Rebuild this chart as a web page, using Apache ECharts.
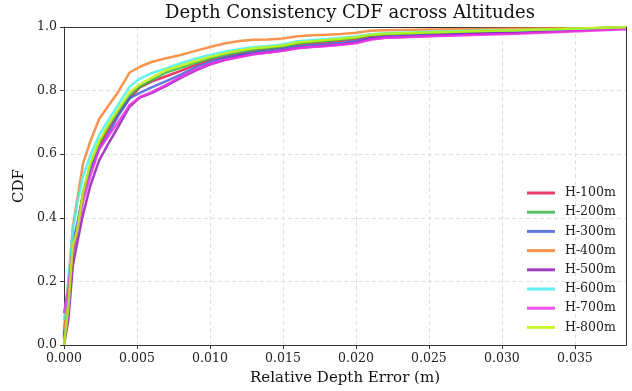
<!DOCTYPE html>
<html>
<head>
<meta charset="utf-8">
<script src="https://cdn.jsdelivr.net/npm/echarts@6/dist/echarts.min.js"></script>
<style>
  html, body { margin: 0; padding: 0; background: #fff; }
  #chart { width: 632px; height: 391px; }
</style>
</head>
<body>
<div id="chart"></div>
<script>
// relative depth error (m), shared sample points for all curves
const errors = [0, 0.0003, 0.0006, 0.0009, 0.0013, 0.0018, 0.0024, 0.003, 0.0037, 0.0045,
  0.0052, 0.006, 0.007, 0.008, 0.009, 0.010, 0.011, 0.012, 0.013, 0.014, 0.015, 0.016,
  0.017, 0.018, 0.019, 0.020, 0.021, 0.022, 0.025, 0.028, 0.031, 0.034, 0.0365, 0.0385];

const altitudes = ["H-100m", "H-200m", "H-300m", "H-400m", "H-500m", "H-600m", "H-700m", "H-800m"];

const cdf100 = [0.02, 0.14, 0.29, 0.36, 0.47, 0.555, 0.625, 0.675, 0.725, 0.776, 0.81, 0.828, 0.845,
  0.862, 0.88, 0.896, 0.906, 0.915, 0.925, 0.931, 0.936, 0.945, 0.949, 0.952, 0.957, 0.962, 0.97,
  0.974, 0.979, 0.983, 0.987, 0.991, 0.995, 0.998];
const cdf200 = [0.03, 0.15, 0.3, 0.37, 0.48, 0.565, 0.635, 0.685, 0.735, 0.785, 0.812, 0.832, 0.857,
  0.872, 0.887, 0.9, 0.912, 0.921, 0.928, 0.933, 0.938, 0.947, 0.952, 0.956, 0.96, 0.966, 0.974,
  0.977, 0.982, 0.986, 0.989, 0.993, 0.996, 0.999];
const cdf300 = [0.03, 0.16, 0.32, 0.38, 0.47, 0.55, 0.615, 0.66, 0.72, 0.776, 0.793, 0.81, 0.83,
  0.85, 0.873, 0.89, 0.903, 0.912, 0.92, 0.925, 0.931, 0.939, 0.943, 0.946, 0.95, 0.956, 0.965,
  0.969, 0.975, 0.979, 0.983, 0.988, 0.993, 0.997];
const cdf400 = [0.05, 0.2, 0.37, 0.456, 0.57, 0.64, 0.71, 0.75, 0.795, 0.857, 0.875, 0.89, 0.902,
  0.912, 0.925, 0.937, 0.948, 0.956, 0.96, 0.961, 0.964, 0.971, 0.974, 0.976, 0.978, 0.982, 0.988,
  0.99, 0.992, 0.994, 0.995, 0.996, 0.997, 0.999];
const cdf500 = [0.0, 0.08, 0.248, 0.32, 0.41, 0.5, 0.58, 0.63, 0.685, 0.75, 0.778, 0.792, 0.815,
  0.84, 0.863, 0.882, 0.896, 0.907, 0.915, 0.92, 0.926, 0.934, 0.938, 0.941, 0.945, 0.951, 0.962,
  0.966, 0.972, 0.977, 0.981, 0.987, 0.992, 0.996];
const cdf600 = [0.08, 0.2, 0.36, 0.445, 0.53, 0.595, 0.66, 0.705, 0.755, 0.8125, 0.838, 0.855, 0.87,
  0.886, 0.9, 0.912, 0.922, 0.93, 0.937, 0.94, 0.945, 0.955, 0.959, 0.962, 0.966, 0.97, 0.977,
  0.98, 0.985, 0.988, 0.99, 0.993, 0.996, 0.998];
const cdf700 = [0.1, 0.18, 0.3, 0.36, 0.45, 0.53, 0.615, 0.655, 0.7, 0.755, 0.78, 0.795, 0.818,
  0.843, 0.866, 0.884, 0.896, 0.905, 0.914, 0.92, 0.925, 0.933, 0.937, 0.94, 0.944, 0.949, 0.96,
  0.966, 0.971, 0.975, 0.979, 0.984, 0.989, 0.993];
const cdf800 = [0.0, 0.12, 0.31, 0.36, 0.477, 0.57, 0.64, 0.69, 0.74, 0.795, 0.82, 0.84, 0.865,
  0.878, 0.893, 0.906, 0.917, 0.926, 0.933, 0.937, 0.942, 0.951, 0.955, 0.959, 0.963, 0.968, 0.976,
  0.979, 0.983, 0.987, 0.99, 0.994, 0.997, 0.999];

const curves = [cdf100, cdf200, cdf300, cdf400, cdf500, cdf600, cdf700, cdf800];
const colors = ["#E6194B", "#3CB44B", "#4363D8", "#F58231", "#911EB4", "#46F0F0", "#F032E6", "#BCF60C"];

const font = "DejaVu Serif";
const chart = echarts.init(document.getElementById("chart"), null, { renderer: "canvas" });

// plain axis used only to draw the top / right frame lines
const frame = { show: true, onZero: false, lineStyle: { color: "#333", width: 1 } };

chart.setOption({
  animation: false,
  color: colors,
  title: {
    text: "Depth Consistency CDF across Altitudes",
    left: 345,
    textAlign: "center",
    top: -1,
    textStyle: { fontFamily: font, fontSize: 18, fontWeight: "normal", color: "#111" },
  },
  grid: { left: 64, right: 6, top: 27, bottom: 44 },
  legend: {
    orient: "vertical",
    left: 527,
    top: 186,
    padding: 0,
    itemWidth: 28,
    itemHeight: 3,
    itemGap: 5.2,
    icon: "rect",
    data: altitudes,
    textStyle: { fontFamily: font, fontSize: 12.5, color: "#222", lineHeight: 14, padding: [0, 0, 0, 5] },
  },
  xAxis: [{
    type: "value",
    min: 0,
    max: 0.0385,
    interval: 0.005,
    name: "Relative Depth Error (m)",
    nameLocation: "middle",
    nameGap: 26,
    nameTextStyle: { fontFamily: font, fontSize: 15, color: "#111" },
    axisLine: frame,
    axisTick: { show: true, length: 4, lineStyle: { color: "#333" } },
    axisLabel: {
      fontFamily: font, fontSize: 12.5, color: "#222", margin: 7,
      showMaxLabel: false,
      formatter: (v) => v.toFixed(3),
    },
    splitLine: { show: true, showMinLine: false, showMaxLine: false, lineStyle: { color: "#e0e0e0", type: [4, 3] } },
  }, {
    type: "value", position: "top", min: 0, max: 0.0385,
    axisLine: frame, axisTick: { show: false }, axisLabel: { show: false }, splitLine: { show: false },
  }],
  yAxis: [{
    type: "value",
    min: 0,
    max: 1,
    interval: 0.2,
    name: "CDF",
    nameLocation: "middle",
    nameGap: 34,
    nameTextStyle: { fontFamily: font, fontSize: 15, color: "#111" },
    axisLine: frame,
    axisTick: { show: true, length: 4, lineStyle: { color: "#333" } },
    axisLabel: {
      fontFamily: font, fontSize: 12.5, color: "#222", margin: 7,
      formatter: (v) => v.toFixed(1),
    },
    splitLine: { show: true, showMinLine: false, showMaxLine: false, lineStyle: { color: "#e0e0e0", type: [4, 3] } },
  }, {
    type: "value", position: "right", min: 0, max: 1,
    axisLine: frame, axisTick: { show: false }, axisLabel: { show: false }, splitLine: { show: false },
  }],
  series: curves.map((ys, i) => ({
    name: altitudes[i],
    type: "line",
    showSymbol: false,
    data: errors.map((x, j) => [x, ys[j]]),
    lineStyle: { width: 2.5, opacity: 0.85 },
    itemStyle: { opacity: 0.85 },
  })),
});
</script>
</body>
</html>
